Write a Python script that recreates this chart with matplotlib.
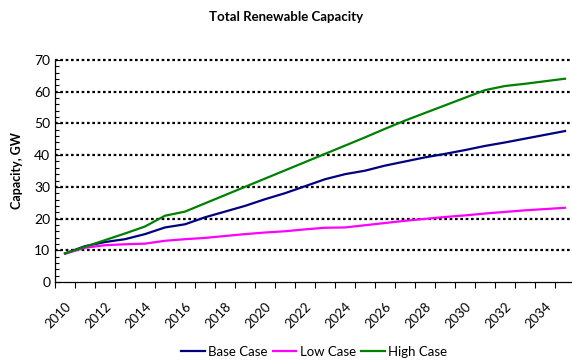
import matplotlib
matplotlib.use("Agg")
import matplotlib.pyplot as plt
import numpy as np

plt.rcParams['font.family'] = ['Lato', 'DejaVu Sans']

years = list(range(2010, 2036))
base_case = [9.0, 11.3, 12.6, 13.5, 15.1, 17.2, 18.2, 20.4, 22.2, 24.0, 26.1, 28.0, 30.2,
             32.4, 34.0, 35.1, 36.7, 38.0, 39.3, 40.4, 41.6, 42.9, 44.0, 45.2, 46.4, 47.6]
low_case = [8.9, 10.8, 11.6, 11.9, 12.1, 13.0, 13.5, 13.9, 14.5, 15.1, 15.6, 16.0, 16.6,
            17.1, 17.2, 17.9, 18.6, 19.3, 19.9, 20.5, 21.0, 21.6, 22.1, 22.6, 23.0, 23.4]
high_case = [9.0, 11.1, 13.2, 15.3, 17.5, 20.9, 22.2, 24.8, 27.4, 30.0, 32.6, 35.2, 37.8,
             40.4, 43.0, 45.6, 48.3, 50.9, 53.3, 55.7, 58.1, 60.5, 61.8, 62.5, 63.3, 64.1]
label_years = years[::2]  # 2010 ... 2034

fig = plt.figure(figsize=(5.72, 3.63), dpi=100)
ax = fig.add_axes([55/572, 1 - 282/363, 1 - 55/572, (282 - 60)/363])

x = np.arange(len(years))
ax.plot(x, base_case, color='#000080', lw=1.6, label='Base Case')
ax.plot(x, low_case, color='#FF00FF', lw=1.6, label='Low Case')
ax.plot(x, high_case, color='#008000', lw=1.6, label='High Case')

ax.set_xlim(-0.5, 25.35)
ax.set_ylim(0, 70)

# category boundaries get the tick marks, labels sit on the category centres
ax.set_xticks(np.arange(len(years)) - 0.5, minor=True)
ax.set_xticks([years.index(y) for y in label_years])
ax.set_xticklabels([str(y) for y in label_years], rotation=45, ha='right',
                   rotation_mode='anchor', fontsize=9.5)
ax.tick_params(axis='x', which='major', length=0, pad=13)
ax.tick_params(axis='x', which='minor', length=4, width=0.8, direction='out')

ax.set_yticks(range(0, 71, 10))
ax.set_yticks(range(0, 71, 2), minor=True)
ax.tick_params(axis='y', which='major', length=4, width=0.8, direction='in', labelsize=10)
ax.tick_params(axis='y', which='minor', length=3, width=0.8, direction='in')

for v in range(10, 71, 10):
    ax.axhline(v, color='black', lw=1.6, linestyle=(0, (1.2, 1.2)), zorder=0, clip_on=False)

for s in ['top', 'right']:
    ax.spines[s].set_visible(False)
ax.spines['left'].set_linewidth(0.9)
ax.spines['bottom'].set_linewidth(0.9)

ax.set_ylabel('Capacity, GW', fontsize=9, fontweight='bold', labelpad=8)
fig.text(0.5, 1 - 17/363, 'Total Renewable Capacity', ha='center', va='center',
         fontsize=9.5, fontweight='bold')

fig.legend(loc='center', bbox_to_anchor=(314/572, 1 - 352/363), ncol=3, frameon=False,
           fontsize=9.5, handlelength=1.8, handletextpad=0.25, columnspacing=0.4)

fig.savefig('out.png', dpi=100)
